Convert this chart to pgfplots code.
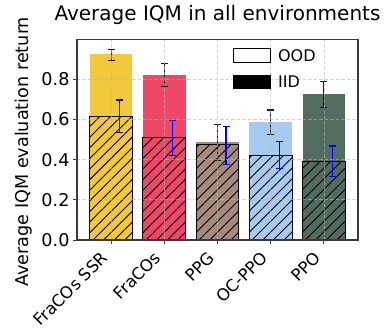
\documentclass[border=0pt]{standalone}
\usepackage{fontspec}
\setmainfont{DejaVu Sans}
\usepackage{pgfplots}
\pgfplotsset{compat=1.18}
\usetikzlibrary{patterns.meta}
\definecolor{cA}{HTML}{F2C93C}
\definecolor{cB}{HTML}{EE4866}
\definecolor{cC}{HTML}{A68A7B}
\definecolor{cD}{HTML}{A7CBF0}
\definecolor{cE}{HTML}{526C60}
\definecolor{frame}{HTML}{3A3A3A}
\tikzset{hatch/.style={pattern={Lines[angle=45,distance=7.5pt,line width=0.9pt]},pattern color=black}}
\begin{document}
\begin{tikzpicture}
\begin{axis}[
  width=281pt, height=200.5pt, scale only axis,
  xmin=-0.64, xmax=4.64, ymin=0, ymax=0.998,
  xtick={0,1,2,3,4},
  xticklabels={FraCOs SSR, FraCOs, PPG, OC-PPO, PPO},
  x tick label style={font=\fontsize{16.5}{18}\selectfont, rotate=45, anchor=north east, xshift=-8.8pt, yshift=6.7pt},
  ytick={0,0.2,0.4,0.6,0.8},
  y tick label style={font=\fontsize{17.6}{19}\selectfont, /pgf/number format/.cd, fixed, fixed zerofill, precision=1},
  /pgf/number format/assume math mode=true,
  tick align=outside, tick pos=left,
  major tick length=4pt,
  every tick/.style={frame, line width=1pt},
  axis line style={frame, line width=1.1pt},
  grid=major,
  grid style={dashed, dash pattern=on 3.5pt off 2pt, gray!55, opacity=0.6, line width=0.7pt},
  axis on top,
  title={Average IQM in all environments},
  title style={font=\fontsize{20}{22}\selectfont, yshift=5pt},
  ylabel={Average IQM evaluation return},
  ylabel style={font=\fontsize{17.6}{19}\selectfont, at={(ticklabel cs:0.44)}, yshift=2pt},
  legend style={at={(rel axis cs:0.555,0.963)}, anchor=north west, draw=none, fill=none,
    inner sep=0pt, row sep=9pt, font=\fontsize{16}{17}\selectfont,
    /tikz/every odd column/.style={column sep=5pt}},
  legend cell align=left,
  legend image code/.code={\draw[#1, line width=1pt] (0pt,-6.5pt) rectangle (37pt,7pt);},
  unbounded coords=jump,
]
\addlegendimage{fill=white, draw=black}
\addlegendentry{OOD}
\addlegendimage{fill=black, draw=black}
\addlegendentry{IID}
% OOD bars
\addplot[ybar, bar width=0.8, bar shift=0pt, fill=cA, draw=none, forget plot] coordinates {(0,0.925)};
\addplot[ybar, bar width=0.8, bar shift=0pt, fill=cB, draw=none, forget plot] coordinates {(1,0.821)};
\addplot[ybar, bar width=0.8, bar shift=0pt, fill=cC, draw=none, forget plot] coordinates {(2,0.486)};
\addplot[ybar, bar width=0.8, bar shift=0pt, fill=cD, draw=none, forget plot] coordinates {(3,0.587)};
\addplot[ybar, bar width=0.8, bar shift=0pt, fill=cE, draw=none, forget plot] coordinates {(4,0.726)};
% IID bars
\addplot[ybar, bar width=0.8, bar shift=0pt, fill=cA, draw=black, line width=1pt, forget plot] coordinates {(0,0.617)};
\addplot[ybar, bar width=0.8, bar shift=0pt, fill=cB, draw=black, line width=1pt, forget plot] coordinates {(1,0.509)};
\addplot[ybar, bar width=0.8, bar shift=0pt, fill=cC, draw=black, line width=1pt, forget plot] coordinates {(2,0.473)};
\addplot[ybar, bar width=0.8, bar shift=0pt, fill=cD, draw=black, line width=1pt, forget plot] coordinates {(3,0.421)};
\addplot[ybar, bar width=0.8, bar shift=0pt, fill=cE, draw=black, line width=1pt, forget plot] coordinates {(4,0.393)};
\addplot[ybar, bar width=0.8, bar shift=0pt, hatch, draw=black, line width=1pt, forget plot] coordinates {(0,0.617) (1,0.509) (2,0.473) (3,0.421) (4,0.393)};
% OOD error bars (low, high) with caps
\addplot[black!90, line width=1.1pt, mark=none, forget plot] coordinates {
  (0,0.895) (0,0.950) (nan,nan) (-0.066,0.895) (0.066,0.895) (nan,nan) (-0.066,0.950) (0.066,0.950) (nan,nan)
  (1,0.763) (1,0.879) (nan,nan) (0.934,0.763) (1.066,0.763) (nan,nan) (0.934,0.879) (1.066,0.879) (nan,nan)
  (2,0.395) (2,0.577) (nan,nan) (1.934,0.395) (2.066,0.395) (nan,nan) (1.934,0.577) (2.066,0.577) (nan,nan)
  (3,0.526) (3,0.647) (nan,nan) (2.934,0.526) (3.066,0.526) (nan,nan) (2.934,0.647) (3.066,0.647) (nan,nan)
  (4,0.660) (4,0.788) (nan,nan) (3.934,0.660) (4.066,0.660) (nan,nan) (3.934,0.788) (4.066,0.788)
};
% IID error bars (low, high) with caps
\addplot[blue, line width=1.1pt, mark=none, forget plot] coordinates {
  (0.16,0.537) (0.16,0.697) (nan,nan) (0.094,0.537) (0.226,0.537) (nan,nan) (0.094,0.697) (0.226,0.697) (nan,nan)
  (1.16,0.421) (1.16,0.597) (nan,nan) (1.094,0.421) (1.226,0.421) (nan,nan) (1.094,0.597) (1.226,0.597) (nan,nan)
  (2.16,0.377) (2.16,0.567) (nan,nan) (2.094,0.377) (2.226,0.377) (nan,nan) (2.094,0.567) (2.226,0.567) (nan,nan)
  (3.16,0.355) (3.16,0.489) (nan,nan) (3.094,0.355) (3.226,0.355) (nan,nan) (3.094,0.489) (3.226,0.489) (nan,nan)
  (4.16,0.318) (4.16,0.468) (nan,nan) (4.094,0.318) (4.226,0.318) (nan,nan) (4.094,0.468) (4.226,0.468)
};
\end{axis}
\path (current axis.south west) ++(-77pt,-93pt) rectangle ++(388pt,333pt);
\end{tikzpicture}
\end{document}
